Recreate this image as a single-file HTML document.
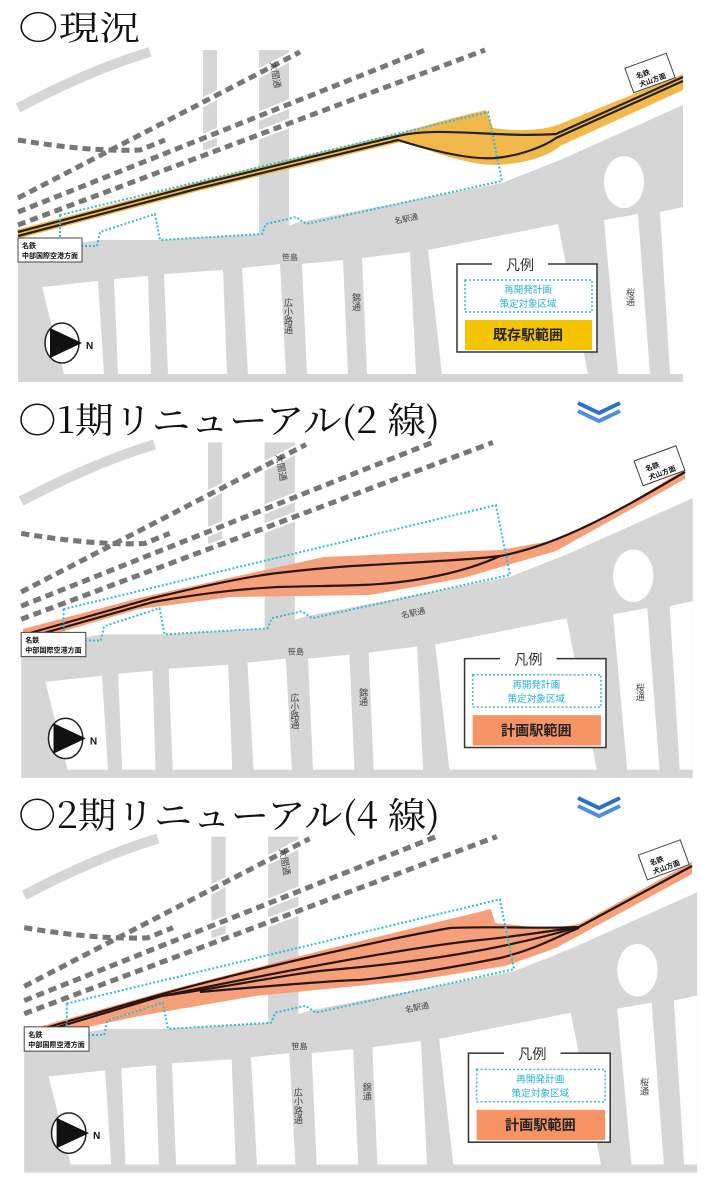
<!DOCTYPE html>
<html><head><meta charset="utf-8"><style>
html,body{margin:0;padding:0;background:#fff;}
svg{display:block;}
.t{font-family:"Noto Serif CJK JP","Noto Serif CJK SC",serif;fill:#111;}
.s{font-family:"Liberation Sans","Noto Sans CJK JP",sans-serif;}
</style></head><body>
<svg width="717" height="1200" viewBox="0 0 717 1200" xmlns="http://www.w3.org/2000/svg">
<defs>
<g id="roads">
  <rect x="18" y="50" width="665" height="332" fill="#fff"/>
  <path d="M18,108 Q90,70 150,52" stroke="#d6d6d6" stroke-width="10" fill="none"/>
  <rect x="203" y="50" width="14" height="100" fill="#d6d6d6"/>
  <rect x="259" y="50" width="30" height="210" fill="#d6d6d6"/>
  <path d="M18,244 L60,246 L100,240 L160,240 L262,234 L300,222 L502,183 L560,160 L683,105 L683,382 L18,382 Z" fill="#d6d6d6"/>
  <ellipse cx="624" cy="182" rx="20" ry="26" fill="#fff"/>
  <g fill="#fff">
    <path d="M42,287 L98,281 L104,374 L64,374 Z"/>
    <path d="M114,279 L148,276 L151,374 L118,374 Z"/>
    <path d="M164,274 L223,270 L227,374 L168,374 Z"/>
    <path d="M242,268 L280,264 L286,374 L248,374 Z"/>
    <path d="M302,264 L343,260 L348,374 L307,374 Z"/>
    <path d="M362,258 L410,252 L416,374 L367,374 Z"/>
    <path d="M428,250 L558,224 L588,374 L442,374 Z"/>
    <path d="M604,220 L638,214 L650,374 L618,374 Z"/>
    <path d="M660,212 L683,207 L683,374 L670,374 Z"/>
  </g>
</g>
<g id="jr" fill="none">
  <g stroke="#fff" stroke-width="9">
    <path d="M18,198 L300,52"/><path d="M18,212 L425,50"/><path d="M18,225 L485,50"/><path d="M18,140 Q90,152 140,150 L165,140"/>
  </g>
  <g stroke="#777" stroke-width="5" stroke-dasharray="8 5">
    <path d="M18,198 L300,52"/><path d="M18,212 L425,50"/><path d="M18,225 L485,50"/><path d="M18,140 Q90,152 140,150 L165,140"/>
  </g>
</g>
</defs>

<!-- Titles -->
<text class="t" x="18" y="40" font-size="34" textLength="122" lengthAdjust="spacingAndGlyphs">○現況</text>
<text class="t" x="18" y="433" font-size="36" textLength="422" lengthAdjust="spacingAndGlyphs">○1期リニューアル(2 線)</text>
<text class="t" x="18" y="828" font-size="36" textLength="422" lengthAdjust="spacingAndGlyphs">○2期リニューアル(4 線)</text>
<g fill="none" stroke="#2f6fc4" stroke-width="4">
  <polyline points="578,403 599,413 620,403"/><polyline points="578,411 599,421 620,411" stroke="#4d8fdc"/>
  <polyline points="578,798 599,808 620,798"/><polyline points="578,806 599,816 620,806" stroke="#4d8fdc"/>
</g>

<!-- PANEL 1 -->
<use href="#roads"/><use href="#jr"/>
<path d="M398,134 C430,124 460,116 486,110 L493,128 C520,132 545,130 560,124 L683,74 L683,90 L560,146 C545,160 500,170 470,162 C440,156 420,146 398,142 Z" fill="#f2b84b"/>
<path d="M18,234 L200,186 L398,138" stroke="#f2b84b" stroke-width="9" fill="none"/>
<g stroke="#222" stroke-width="2.2" fill="none">
  <path d="M18,232 L200,184 L398,136 C440,126 495,138 556,134 L683,77"/>
  <path d="M18,236 L200,188 L398,140 C430,150 470,160 495,158 C520,156 545,146 556,138 L683,81"/>
</g>

<!-- PANEL 2 -->
<g transform="translate(3,392) scale(1.01)"><use href="#roads"/><use href="#jr"/></g>
<path d="M23,629 L139,598 L324,557 L417,553 L500,550 L556,540 L602,520 L685,469 L685,479 L556,551 L463,578 L370,595 L231,597 L139,609 L23,643 Z" fill="#f5a07a"/>
<g stroke="#2a1410" stroke-width="2.2" fill="none">
  <path d="M23,635 L153,598 C220,582 260,575 278,573 C320,568 350,566 370,565 C420,562 470,560 500,556 C560,545 620,510 685,472"/>
  <path d="M23,639 L153,602 C220,590 260,588 278,587 C310,586 340,586 361,585 C420,583 470,570 500,556"/>
</g>

<!-- PANEL 3 -->
<g transform="translate(6,786) scale(1.012)"><use href="#roads"/><use href="#jr"/></g>
<path d="M28,1030 L162,992 L324,950 L491,909 L495,923 L551,929 L579,924 L692,862 L692,874 L556,948 L505,966 L417,980 L255,996 L139,1016 L28,1040 Z" fill="#f5a07a"/>
<g stroke="#2a1410" stroke-width="2.2" fill="none">
  <path d="M28,1033 L162,994 C250,970 380,940 450,928 C500,926 540,929 579,927 L692,866"/>
  <path d="M28,1036 L162,996 C250,978 400,948 480,940 C520,936 550,931 579,927"/>
  <path d="M162,996 C220,988 300,972 330,970 C420,962 500,950 579,927"/>
  <path d="M200,992 C280,985 340,980 360,980 C400,976 450,968 500,958 C540,948 560,935 579,928"/>
</g>

<g class="s">
  <path d="M60,215 L60,246 L97,246 L100,232 L155,214 L160,240 L262,234 L266,224 L296,217 L306,224 L502,181 L488,112 L60,215 Z" fill="none" stroke="#35bcd6" stroke-width="2" stroke-dasharray="2 2"/>
  <text x="270" y="62" font-size="9" fill="#444" transform="rotate(80 270 62)">太閤通</text>
  <text x="282" y="260" font-size="8" fill="#444">笹島</text>
  <text x="395" y="224" font-size="8" fill="#444" transform="rotate(-12 395 224)">名駅通</text>
  <text x="288" y="298" font-size="9" fill="#444" writing-mode="tb">広小路通</text>
  <text x="356" y="293" font-size="9" fill="#444" writing-mode="tb">錦通</text>
  <text x="630" y="288" font-size="9" fill="#444" writing-mode="tb">桜通</text>
  <rect x="18" y="238" width="64" height="24" fill="#fff" stroke="#444" stroke-width="1"/>
  <text x="22" y="248" font-size="7" font-weight="bold" fill="#111">名鉄</text>
  <text x="22" y="258" font-size="7" font-weight="bold" fill="#111">中部国際空港方面</text>
  <rect x="628" y="60" width="44" height="26" fill="#fff" stroke="#444" stroke-width="1" transform="rotate(-20 650 73)"/>
  <text x="636" y="74" font-size="7" font-weight="bold" fill="#111" transform="rotate(-20 650 73)">名鉄</text>
  <text x="636" y="83" font-size="7" font-weight="bold" fill="#111" transform="rotate(-20 650 73)">犬山方面</text>
  <ellipse cx="62" cy="343" rx="17" ry="20" fill="#fff" stroke="#222" stroke-width="1.5"/>
  <path d="M50,328 L82,343 L50,358 Z" fill="#111"/>
  <text x="86" y="349" font-size="10" font-weight="bold" fill="#111">N</text>
  <rect x="457" y="264" width="140" height="88" fill="#fff" stroke="#333" stroke-width="1.5"/>
  <rect x="492" y="256" width="56" height="14" fill="#fff"/>
  <text x="520" y="270" font-size="14" fill="#333" text-anchor="middle">凡例</text>
  <rect x="465" y="280" width="127" height="32" fill="#fff" stroke="#35bcd6" stroke-width="1.5" stroke-dasharray="2 2"/>
  <text x="528" y="293" font-size="9.5" fill="#29b0d6" text-anchor="middle">再開発計画</text>
  <text x="528" y="307" font-size="9.5" fill="#29b0d6" text-anchor="middle">策定対象区域</text>
  <rect x="465" y="320" width="127" height="30" fill="#f5c400"/>
  <text x="528" y="340" font-size="14" font-weight="bold" fill="#222" text-anchor="middle">既存駅範囲</text>
</g>
<g class="s" transform="translate(3,392) scale(1.01)">
  <path d="M60,215 L60,246 L97,246 L100,232 L155,214 L160,240 L262,234 L266,224 L296,217 L306,224 L502,181 L488,112 L60,215 Z" fill="none" stroke="#35bcd6" stroke-width="2" stroke-dasharray="2 2"/>
  <text x="270" y="62" font-size="9" fill="#444" transform="rotate(80 270 62)">太閤通</text>
  <text x="282" y="260" font-size="8" fill="#444">笹島</text>
  <text x="395" y="224" font-size="8" fill="#444" transform="rotate(-12 395 224)">名駅通</text>
  <text x="288" y="298" font-size="9" fill="#444" writing-mode="tb">広小路通</text>
  <text x="356" y="293" font-size="9" fill="#444" writing-mode="tb">錦通</text>
  <text x="630" y="288" font-size="9" fill="#444" writing-mode="tb">桜通</text>
  <rect x="18" y="238" width="64" height="24" fill="#fff" stroke="#444" stroke-width="1"/>
  <text x="22" y="248" font-size="7" font-weight="bold" fill="#111">名鉄</text>
  <text x="22" y="258" font-size="7" font-weight="bold" fill="#111">中部国際空港方面</text>
  <rect x="628" y="60" width="44" height="26" fill="#fff" stroke="#444" stroke-width="1" transform="rotate(-20 650 73)"/>
  <text x="636" y="74" font-size="7" font-weight="bold" fill="#111" transform="rotate(-20 650 73)">名鉄</text>
  <text x="636" y="83" font-size="7" font-weight="bold" fill="#111" transform="rotate(-20 650 73)">犬山方面</text>
  <ellipse cx="62" cy="343" rx="17" ry="20" fill="#fff" stroke="#222" stroke-width="1.5"/>
  <path d="M50,328 L82,343 L50,358 Z" fill="#111"/>
  <text x="86" y="349" font-size="10" font-weight="bold" fill="#111">N</text>
  <rect x="457" y="264" width="140" height="88" fill="#fff" stroke="#333" stroke-width="1.5"/>
  <rect x="492" y="256" width="56" height="14" fill="#fff"/>
  <text x="520" y="270" font-size="14" fill="#333" text-anchor="middle">凡例</text>
  <rect x="465" y="280" width="127" height="32" fill="#fff" stroke="#35bcd6" stroke-width="1.5" stroke-dasharray="2 2"/>
  <text x="528" y="293" font-size="9.5" fill="#29b0d6" text-anchor="middle">再開発計画</text>
  <text x="528" y="307" font-size="9.5" fill="#29b0d6" text-anchor="middle">策定対象区域</text>
  <rect x="465" y="320" width="127" height="30" fill="#f79466"/>
  <text x="528" y="340" font-size="14" font-weight="bold" fill="#222" text-anchor="middle">計画駅範囲</text>
</g>
<g class="s" transform="translate(6,786) scale(1.012)">
  <path d="M60,215 L60,246 L97,246 L100,232 L155,214 L160,240 L262,234 L266,224 L296,217 L306,224 L502,181 L488,112 L60,215 Z" fill="none" stroke="#35bcd6" stroke-width="2" stroke-dasharray="2 2"/>
  <text x="270" y="62" font-size="9" fill="#444" transform="rotate(80 270 62)">太閤通</text>
  <text x="282" y="260" font-size="8" fill="#444">笹島</text>
  <text x="395" y="224" font-size="8" fill="#444" transform="rotate(-12 395 224)">名駅通</text>
  <text x="288" y="298" font-size="9" fill="#444" writing-mode="tb">広小路通</text>
  <text x="356" y="293" font-size="9" fill="#444" writing-mode="tb">錦通</text>
  <text x="630" y="288" font-size="9" fill="#444" writing-mode="tb">桜通</text>
  <rect x="18" y="238" width="64" height="24" fill="#fff" stroke="#444" stroke-width="1"/>
  <text x="22" y="248" font-size="7" font-weight="bold" fill="#111">名鉄</text>
  <text x="22" y="258" font-size="7" font-weight="bold" fill="#111">中部国際空港方面</text>
  <rect x="628" y="60" width="44" height="26" fill="#fff" stroke="#444" stroke-width="1" transform="rotate(-20 650 73)"/>
  <text x="636" y="74" font-size="7" font-weight="bold" fill="#111" transform="rotate(-20 650 73)">名鉄</text>
  <text x="636" y="83" font-size="7" font-weight="bold" fill="#111" transform="rotate(-20 650 73)">犬山方面</text>
  <ellipse cx="62" cy="343" rx="17" ry="20" fill="#fff" stroke="#222" stroke-width="1.5"/>
  <path d="M50,328 L82,343 L50,358 Z" fill="#111"/>
  <text x="86" y="349" font-size="10" font-weight="bold" fill="#111">N</text>
  <rect x="457" y="264" width="140" height="88" fill="#fff" stroke="#333" stroke-width="1.5"/>
  <rect x="492" y="256" width="56" height="14" fill="#fff"/>
  <text x="520" y="270" font-size="14" fill="#333" text-anchor="middle">凡例</text>
  <rect x="465" y="280" width="127" height="32" fill="#fff" stroke="#35bcd6" stroke-width="1.5" stroke-dasharray="2 2"/>
  <text x="528" y="293" font-size="9.5" fill="#29b0d6" text-anchor="middle">再開発計画</text>
  <text x="528" y="307" font-size="9.5" fill="#29b0d6" text-anchor="middle">策定対象区域</text>
  <rect x="465" y="320" width="127" height="30" fill="#f79466"/>
  <text x="528" y="340" font-size="14" font-weight="bold" fill="#222" text-anchor="middle">計画駅範囲</text>
</g>
</svg>
</body></html>
